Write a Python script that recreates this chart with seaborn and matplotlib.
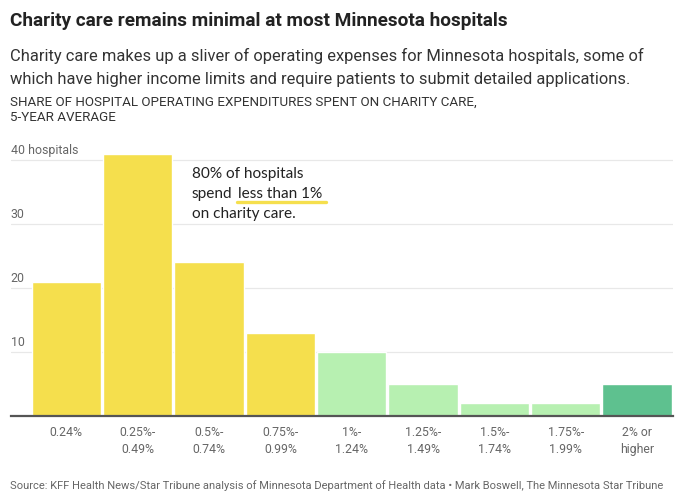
import matplotlib
matplotlib.use("Agg")
import matplotlib.pyplot as plt
import matplotlib.transforms as mtransforms
import pandas as pd
import seaborn as sns

# Data
categories = ["0.24%", "0.25%-\n0.49%", "0.5%-\n0.74%", "0.75%-\n0.99%", "1%-\n1.24%",
              "1.25%-\n1.49%", "1.5%-\n1.74%", "1.75%-\n1.99%", "2% or\nhigher"]
hospitals = [21, 41, 24, 13, 10, 5, 2, 2, 5]
groups = ["under1", "under1", "under1", "under1", "1to2", "1to2", "1to2", "1to2", "over2"]
y_ticks = [10, 20, 30, 40]
y_tick_labels = ["10", "20", "30", "40 hospitals"]

palette = {"under1": "#F5DF4D", "1to2": "#B7F0B1", "over2": "#5EC18F"}

W, H = 680, 498


def fx(px):
    return px / W


def fy(py):
    return 1 - py / H


sns.set_theme(style="white")
plt.rcParams["font.family"] = ["Roboto", "DejaVu Sans"]

df = pd.DataFrame({"category": categories, "hospitals": hospitals, "group": groups})

fig = plt.figure(figsize=(W / 100, H / 100), dpi=100)
ax = fig.add_axes([fx(10.7), fy(416), fx(672.7) - fx(10.7), fy(147.2) - fy(416)])

sns.barplot(data=df, x="category", y="hospitals", hue="group", palette=palette,
            dodge=False, width=0.97, saturation=1, legend=False, ax=ax)

ax.set_xlim(-0.78, 8.5)
ax.set_ylim(0, 42)
ax.set_xlabel("")
ax.set_ylabel("")
for s in ["top", "right", "left"]:
    ax.spines[s].set_visible(False)
ax.spines["bottom"].set_color("#555555")
ax.spines["bottom"].set_linewidth(1.6)

ax.set_yticks(y_ticks)
ax.set_yticklabels([])
ax.tick_params(axis="y", length=0)
ax.yaxis.grid(True, color="#E8E8E8", linewidth=0.9)
ax.set_axisbelow(True)

ax.tick_params(axis="x", length=0, pad=7, labelsize=8.8, labelcolor="#666666")
for lbl in ax.get_xticklabels():
    lbl.set_linespacing(1.4)

trans = mtransforms.blended_transform_factory(ax.transAxes, ax.transData)
for v, lab in zip(y_ticks, y_tick_labels):
    ax.text(0, v + 0.9, lab, transform=trans, ha="left", va="baseline",
            fontsize=8.9, color="#666666")

# annotation
ann_font = ["Lato", "DejaVu Sans"]
ann_size = 11.1
fig.text(fx(191.5), fy(178), "80% of hospitals", fontsize=ann_size, color="#222222",
         family=ann_font, va="baseline")
fig.text(fx(191.5), fy(198), "spend", fontsize=ann_size, color="#222222",
         family=ann_font, va="baseline")
fig.text(fx(238), fy(198), "less than 1%", fontsize=ann_size, color="#222222",
         family=ann_font, va="baseline")
fig.text(fx(191.5), fy(218), "on charity care.", fontsize=ann_size, color="#222222",
         family=ann_font, va="baseline")
fig.add_artist(plt.Line2D([fx(237), fx(326)], [fy(202.3), fy(202.3)],
                          color="#F5DF4D", linewidth=2.4, transform=fig.transFigure))

# titles
fig.text(fx(10), fy(26), "Charity care remains minimal at most Minnesota hospitals",
         fontsize=13.7, fontweight="bold", color="#222222", va="baseline")
fig.text(fx(10), fy(61), "Charity care makes up a sliver of operating expenses for Minnesota hospitals, some of",
         fontsize=11.85, color="#333333", va="baseline")
fig.text(fx(10), fy(84), "which have higher income limits and require patients to submit detailed applications.",
         fontsize=11.85, color="#333333", va="baseline")
fig.text(fx(10), fy(106), "SHARE OF HOSPITAL OPERATING EXPENDITURES SPENT ON CHARITY CARE,",
         fontsize=9.6, color="#333333", va="baseline")
fig.text(fx(10), fy(121), "5-YEAR AVERAGE", fontsize=9.6, color="#333333", va="baseline")
fig.text(fx(10), fy(489),
         "Source: KFF Health News/Star Tribune analysis of Minnesota Department of Health data \u2022 Mark Boswell, The Minnesota Star Tribune",
         fontsize=8.0, color="#666666", va="baseline")

fig.savefig("out.png", dpi=100)
